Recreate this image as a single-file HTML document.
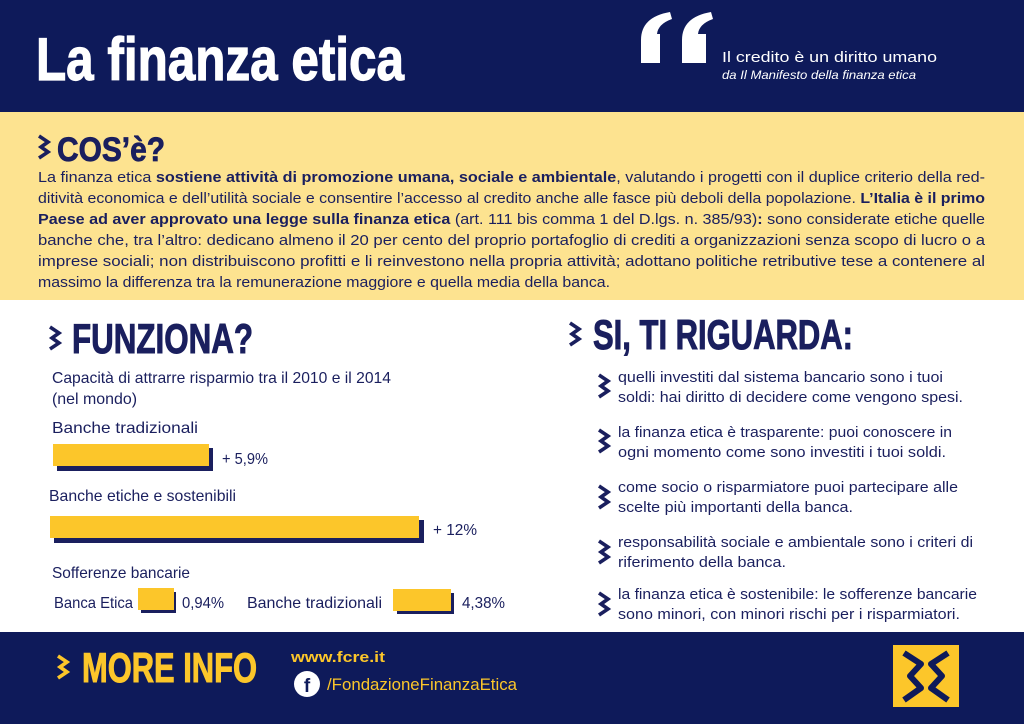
<!DOCTYPE html>
<html><head><meta charset="utf-8"><style>
html,body{margin:0;padding:0;background:#fff}
svg{display:block}
.b{font-family:"Liberation Sans",sans-serif;fill:#1a1f5e}
.t{font-family:"Liberation Sans Narrow","Liberation Sans",sans-serif;font-weight:bold}
</style></head><body>
<svg width="1024" height="724" viewBox="0 0 1024 724" xmlns="http://www.w3.org/2000/svg">
<defs>
<g id="chev"><polyline points="0,0 9,6 2,11 9,16 0,22" fill="none" stroke-width="3.6" stroke-linejoin="miter"/></g>
</defs>
<rect x="0" y="0" width="1024" height="112" fill="#0e1a5a"/>
<rect x="0" y="112" width="1024" height="188" fill="#fde390"/>
<rect x="0" y="632" width="1024" height="92" fill="#0e1a5a"/>

<text class="t" x="36" y="80" font-size="60" fill="#fff" stroke="#fff" stroke-width="1.2" textLength="368" lengthAdjust="spacingAndGlyphs">La finanza etica</text>
<!-- quote marks -->
<path d="M641,63 L641,40 Q641,17 670,12 L672,19 Q658,24 657,34 L660,34 L660,63 Z" fill="#fff"/>
<path d="M682,63 L682,40 Q682,17 711,12 L713,19 Q699,24 698,34 L706,34 L706,63 Z" fill="#fff"/>
<text x="722" y="62" font-family="Liberation Sans,sans-serif" font-size="15" fill="#fff" textLength="215" lengthAdjust="spacingAndGlyphs">Il credito è un diritto  umano</text>
<text x="722" y="79" font-family="Liberation Sans,sans-serif" font-style="italic" font-size="12" fill="#fff" textLength="194" lengthAdjust="spacingAndGlyphs">da Il Manifesto della finanza etica</text>

<use href="#chev" x="39" y="136" stroke="#1a1f5e"/>
<text class="t" x="57" y="161" font-size="34" fill="#1a1f5e" stroke="#1a1f5e" stroke-width="0.8" textLength="108" lengthAdjust="spacingAndGlyphs">COS’è?</text>

<g class="b" font-size="15">
<text x="38" y="182" textLength="947" lengthAdjust="spacingAndGlyphs">La finanza etica <tspan font-weight="bold">sostiene attività di promozione umana, sociale e ambientale</tspan>, valutando i progetti con il duplice criterio della red-</text>
<text x="38" y="203" textLength="947" lengthAdjust="spacingAndGlyphs">ditività economica e dell’utilità sociale e consentire l’accesso al credito anche alle fasce più deboli della popolazione. <tspan font-weight="bold">L’Italia è il primo</tspan></text>
<text x="38" y="224" textLength="947" lengthAdjust="spacingAndGlyphs"><tspan font-weight="bold">Paese ad aver approvato una legge sulla finanza etica</tspan> (art. 111 bis comma 1 del D.lgs. n. 385/93)<tspan font-weight="bold">:</tspan> sono considerate etiche quelle</text>
<text x="38" y="245" textLength="947" lengthAdjust="spacingAndGlyphs">banche che, tra l’altro: dedicano almeno il 20 per cento del proprio portafoglio di crediti a organizzazioni senza scopo di lucro o a</text>
<text x="38" y="266" textLength="947" lengthAdjust="spacingAndGlyphs">imprese sociali; non distribuiscono profitti e li reinvestono nella propria attività; adottano politiche retributive tese a contenere al</text>
<text x="38" y="287" textLength="572" lengthAdjust="spacingAndGlyphs">massimo la differenza tra la remunerazione maggiore e quella media della banca.</text>
</g>

<use href="#chev" x="50" y="327" stroke="#1a1f5e"/>
<text class="t" x="72" y="353" font-size="42" fill="#1a1f5e" stroke="#1a1f5e" stroke-width="1" textLength="181" lengthAdjust="spacingAndGlyphs">FUNZIONA?</text>
<g class="b" font-size="16">
<text x="52" y="383" textLength="339" lengthAdjust="spacingAndGlyphs">Capacità di attrarre risparmio tra il 2010 e il 2014</text>
<text x="52" y="404" textLength="85" lengthAdjust="spacingAndGlyphs">(nel mondo)</text>
<text x="52" y="433" textLength="146" lengthAdjust="spacingAndGlyphs">Banche tradizionali</text>
<text x="222" y="464" textLength="46" lengthAdjust="spacingAndGlyphs">+ 5,9%</text>
<text x="49" y="501" textLength="187" lengthAdjust="spacingAndGlyphs">Banche etiche e sostenibili</text>
<text x="433" y="535" textLength="44" lengthAdjust="spacingAndGlyphs">+ 12%</text>
<text x="52" y="578" textLength="138" lengthAdjust="spacingAndGlyphs">Sofferenze bancarie</text>
<text x="54" y="608" textLength="79" lengthAdjust="spacingAndGlyphs">Banca Etica</text>
<text x="182" y="608" textLength="42" lengthAdjust="spacingAndGlyphs">0,94%</text>
<text x="247" y="608" textLength="135" lengthAdjust="spacingAndGlyphs">Banche tradizionali</text>
<text x="462" y="608" textLength="43" lengthAdjust="spacingAndGlyphs">4,38%</text>
</g>
<g>
<rect x="57" y="448" width="156" height="23" fill="#1a1f5e"/><rect x="53" y="444" width="156" height="22" fill="#fcc62a"/>
<rect x="54" y="520" width="370" height="23" fill="#1a1f5e"/><rect x="50" y="516" width="369" height="22" fill="#fcc62a"/>
<rect x="141" y="592" width="35" height="21" fill="#1a1f5e"/><rect x="138" y="588" width="36" height="22" fill="#fcc62a"/>
<rect x="397" y="593" width="57" height="21" fill="#1a1f5e"/><rect x="393" y="589" width="58" height="22" fill="#fcc62a"/>
</g>

<use href="#chev" x="570" y="323" stroke="#1a1f5e"/>
<text class="t" x="593" y="349" font-size="42" fill="#1a1f5e" stroke="#1a1f5e" stroke-width="1" textLength="260" lengthAdjust="spacingAndGlyphs">SI, TI RIGUARDA:</text>
<g stroke="#1a1f5e">
<use href="#chev" x="599" y="375"/>
<use href="#chev" x="599" y="430"/>
<use href="#chev" x="599" y="486"/>
<use href="#chev" x="599" y="541"/>
<use href="#chev" x="599" y="593"/>
</g>
<g class="b" font-size="15">
<text x="618" y="382" textLength="325" lengthAdjust="spacingAndGlyphs">quelli investiti dal sistema bancario sono i tuoi</text>
<text x="618" y="402" textLength="345" lengthAdjust="spacingAndGlyphs">soldi: hai diritto di decidere come vengono spesi.</text>
<text x="618" y="437" textLength="334" lengthAdjust="spacingAndGlyphs">la finanza etica è trasparente: puoi conoscere in</text>
<text x="618" y="457" textLength="328" lengthAdjust="spacingAndGlyphs">ogni momento come sono investiti i tuoi soldi.</text>
<text x="618" y="492" textLength="340" lengthAdjust="spacingAndGlyphs">come socio o risparmiatore puoi partecipare alle</text>
<text x="618" y="512" textLength="235" lengthAdjust="spacingAndGlyphs">scelte più importanti della banca.</text>
<text x="618" y="547" textLength="355" lengthAdjust="spacingAndGlyphs">responsabilità sociale e ambientale sono i criteri di</text>
<text x="618" y="567" textLength="168" lengthAdjust="spacingAndGlyphs">riferimento della banca.</text>
<text x="618" y="599" textLength="359" lengthAdjust="spacingAndGlyphs">la finanza etica è sostenibile: le sofferenze bancarie</text>
<text x="618" y="619" textLength="342" lengthAdjust="spacingAndGlyphs">sono minori, con minori rischi per i risparmiatori.</text>
</g>

<use href="#chev" x="58" y="656" stroke="#fcc62a"/>
<text class="t" x="82" y="682" font-size="42" fill="#fcc62a" stroke="#fcc62a" stroke-width="1" textLength="175" lengthAdjust="spacingAndGlyphs">MORE INFO</text>
<text x="291" y="662" font-family="Liberation Sans,sans-serif" font-weight="bold" font-size="15" fill="#fcc62a" textLength="94" lengthAdjust="spacingAndGlyphs">www.fcre.it</text>
<circle cx="307" cy="684" r="13" fill="#fff"/>
<text x="307" y="692" text-anchor="middle" font-family="Liberation Sans,sans-serif" font-weight="bold" font-size="19" fill="#0e1a5a">f</text>
<text x="327" y="690" font-family="Liberation Sans Narrow,Liberation Sans,sans-serif" font-size="17" fill="#fcc62a" textLength="190" lengthAdjust="spacingAndGlyphs">/FondazioneFinanzaEtica</text>

<rect x="893" y="645" width="66" height="62" fill="#fcc62a"/>
<g fill="none" stroke="#0e1a5a" stroke-width="6" stroke-linejoin="round">
<polyline points="904,653 921,664 910,676 921,688 904,700"/>
<polyline points="948,653 931,664 942,676 931,688 948,700"/>
</g>
</svg>
</body></html>
